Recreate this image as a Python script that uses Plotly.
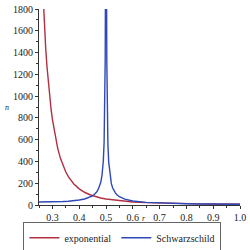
import plotly.graph_objects as go

# exponential curve (r, n)
r_exp = [0.26, 0.265, 0.27, 0.275, 0.28, 0.285, 0.29, 0.295, 0.30, 0.31, 0.32, 0.33,
         0.34, 0.35, 0.36, 0.38, 0.40, 0.42, 0.44, 0.46, 0.48, 0.50, 0.55, 0.60,
         0.65, 0.70, 0.75, 0.80, 0.85, 0.90, 0.95, 1.00]
n_exp = [2191.5, 1895.5, 1648.1, 1440.4, 1265.1, 1116.0, 988.9, 879.8, 785.8, 633.7,
         518.0, 428.6, 358.7, 303.2, 258.7, 193.1, 148.4, 117.0, 94.2, 77.3, 64.5,
         54.6, 37.95, 28.03, 21.69, 17.41, 14.39, 12.18, 10.52, 9.23, 8.21, 7.39]

# Schwarzschild curve (r, n)
r_sch = [0.25, 0.26, 0.28, 0.30, 0.32, 0.34, 0.36, 0.38, 0.40, 0.42, 0.44, 0.45,
         0.455, 0.46, 0.465, 0.47, 0.475, 0.48, 0.485, 0.49, 0.493, 0.495, 0.497,
         0.498, 0.502, 0.503, 0.505, 0.507, 0.51, 0.515, 0.52, 0.525, 0.53, 0.535,
         0.54, 0.55, 0.57, 0.60, 0.65, 0.70, 0.75, 0.80, 0.85, 0.90, 0.95, 1.00]
n_sch = [27.0, 27.06, 27.51, 28.44, 29.91, 32.04, 35.06, 39.33, 45.56, 55.17, 71.49,
         84.69, 93.5, 104.5, 118.7, 137.8, 164.3, 204.1, 270.8, 404.1, 575.4, 804.1,
         1337.0, 2004.0, 1996.0, 1329.0, 796.0, 567.5, 396.1, 262.8, 196.2, 156.3,
         129.7, 110.7, 96.44, 76.54, 53.86, 36.97, 24.00, 17.63, 13.89, 11.44, 9.73,
         8.47, 7.51, 6.75]

x_ticks = [0.3, 0.4, 0.5, 0.6, 0.7, 0.8, 0.9, 1.0]
y_ticks = [0, 200, 400, 600, 800, 1000, 1200, 1400, 1600, 1800]

FONT = "Liberation Serif, Times New Roman, serif"

fig = go.Figure()
fig.add_trace(go.Scatter(x=r_exp, y=n_exp, mode="lines", name="exponential",
                         line=dict(color="#B03040", width=1.4)))
fig.add_trace(go.Scatter(x=r_sch, y=n_sch, mode="lines", name="Schwarzschild",
                         line=dict(color="#2E48B8", width=1.4)))

fig.update_layout(
    width=250, height=250,
    margin=dict(l=39, r=10, t=9, b=45, autoexpand=False),
    paper_bgcolor="white", plot_bgcolor="white",
    font=dict(family=FONT, size=10, color="#222"),
    showlegend=True,
    legend=dict(orientation="h", x=0.415, xanchor="center", y=-0.088, yanchor="top",
                bordercolor="#666", borderwidth=1, font=dict(family=FONT, size=10),
                itemwidth=30, tracegroupgap=0),
    annotations=[
        dict(text="<i>r</i>", x=0.52, y=-0.068, xref="paper", yref="paper",
             xanchor="center", yanchor="middle",
             showarrow=False, font=dict(family=FONT, size=8)),
        dict(text="<i>n</i>", x=-0.16, y=0.5, xref="paper", yref="paper",
             xanchor="center", yanchor="middle",
             showarrow=False, font=dict(family=FONT, size=8)),
    ],
)

fig.update_xaxes(range=[0.25, 1.0], tickvals=x_ticks, tickformat=".1f",
                 showgrid=False, zeroline=False, showline=True, linecolor="#333",
                 linewidth=1, ticks="outside", ticklen=3, tickcolor="#333",
                 minor=dict(ticks="outside", ticklen=2, dtick=0.05, tick0=0.25,
                            tickcolor="#333", showgrid=False),
                 tickfont=dict(family=FONT, size=10), automargin=False)
fig.update_yaxes(range=[0, 1800], tickvals=y_ticks,
                 showgrid=False, zeroline=False, showline=True, linecolor="#333",
                 linewidth=1, ticks="outside", ticklen=3, tickcolor="#333",
                 minor=dict(ticks="outside", ticklen=2, dtick=100, tick0=0,
                            tickcolor="#333", showgrid=False),
                 tickfont=dict(family=FONT, size=10), automargin=False)

fig.write_html("out.html", config={"displayModeBar": False},
               post_script="document.body.style.margin='0';document.body.style.overflow='hidden';")
